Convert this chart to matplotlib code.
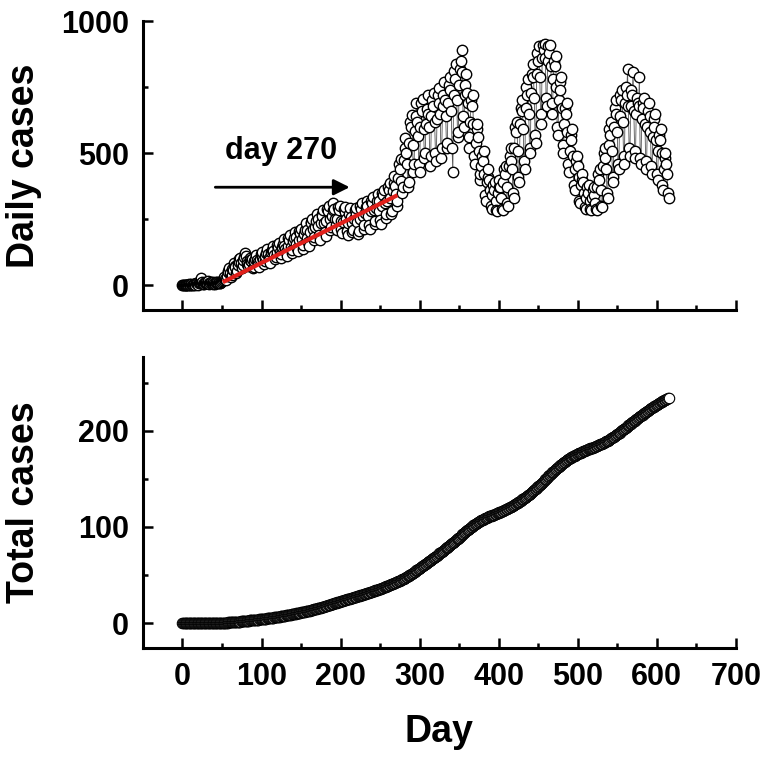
import numpy as np
import matplotlib
matplotlib.use("Agg")
import matplotlib.pyplot as plt
from matplotlib.ticker import MultipleLocator

plt.rcParams["font.family"] = ["Liberation Sans", "DejaVu Sans"]
plt.rcParams["font.weight"] = "bold"

# daily cases, one row per week, day 0 .. 615
daily_cases = [
    0, 0, 1, 0, 2, 1, 0,
    1, 3, 2, 0, 4, 2, 1,
    3, 5, 2, 6, 8, 4, 2,
    6, 9, 25, 8, 12, 5, 3,
    8, 12, 10, 6, 14, 9, 5,
    7, 10, 8, 5, 11, 7, 4,
    9, 12, 10, 7, 13, 9, 6,
    10, 14, 18, 24, 32, 22, 20,
    36, 52, 48, 64, 44, 30, 40,
    62, 58, 84, 72, 70, 46, 55,
    78, 98, 88, 104, 82, 64, 76,
    96, 108, 121, 110, 90, 80, 72,
    80, 104, 96, 90, 98, 66, 70,
    92, 98, 114, 96, 86, 78, 68,
    100, 118, 108, 124, 96, 80, 90,
    112, 120, 138, 116, 104, 96, 84,
    124, 132, 150, 128, 114, 100, 108,
    126, 152, 146, 160, 124, 104, 116,
    144, 156, 176, 150, 136, 124, 110,
    148, 180, 170, 188, 146, 120, 134,
    166, 178, 200, 184, 156, 140, 130,
    170, 204, 196, 214, 176, 138, 152,
    192, 208, 234, 210, 180, 164, 150,
    200, 240, 236, 252, 212, 170, 182,
    220, 244, 270, 250, 224, 188, 172,
    236, 270, 262, 284, 236, 200, 186,
    244, 290, 280, 300, 250, 210, 220,
    262, 286, 310, 290, 252, 226, 208,
    250, 296, 286, 300, 244, 212, 196,
    240, 288, 276, 296, 250, 204, 190,
    236, 268, 292, 260, 236, 200, 210,
    250, 286, 270, 294, 240, 192, 206,
    252, 300, 290, 310, 262, 214, 226,
    272, 296, 320, 300, 262, 228, 212,
    280, 320, 310, 334, 284, 232, 244,
    292, 318, 346, 320, 280, 246, 232,
    300, 350, 340, 362, 310, 254, 270,
    318, 372, 360, 386, 330, 270, 282,
    356, 388, 414, 376, 344, 300, 320,
    406, 460, 440, 478, 396, 350, 372,
    476, 520, 556, 500, 460, 370, 390,
    540, 620, 600, 646, 530, 430, 460,
    586, 640, 690, 620, 566, 460, 430,
    600, 690, 660, 706, 590, 480, 500,
    610, 666, 720, 650, 600, 450, 490,
    640, 700, 680, 730, 620, 500, 470,
    630, 720, 748, 690, 650, 480, 520,
    680, 720, 770, 700, 640, 520, 540,
    690, 760, 740, 790, 660, 520, 430,
    720, 810, 780, 840, 700, 560, 580,
    760, 820, 850, 890, 807, 640, 600,
    720, 760, 800, 730, 690, 560, 520,
    620, 700, 680, 720, 610, 490, 460,
    540, 590, 610, 560, 510, 400, 420,
    450, 490, 470, 510, 420, 340, 320,
    390, 410, 440, 400, 360, 300, 290,
    340, 380, 360, 390, 320, 285, 280,
    350, 370, 400, 370, 330, 290, 285,
    390, 440, 420, 450, 370, 310, 300,
    450, 490, 520, 470, 440, 350, 330,
    520, 600, 580, 620, 510, 410, 390,
    610, 670, 700, 660, 590, 470, 440,
    670, 750, 720, 780, 650, 520, 500,
    730, 800, 840, 790, 710, 570, 540,
    800, 880, 850, 905, 790, 650, 610,
    860, 910, 890, 915, 860, 710, 680,
    850, 905, 880, 910, 830, 690, 650,
    780, 850, 830, 870, 750, 600, 570,
    700, 770, 740, 790, 670, 530, 500,
    610, 670, 650, 690, 580, 460, 430,
    510, 570, 550, 590, 490, 380, 360,
    440, 470, 490, 450, 410, 320, 310,
    380, 400, 420, 390, 350, 295, 290,
    330, 370, 350, 380, 320, 290, 285,
    330, 360, 340, 370, 310, 290, 285,
    370, 420, 400, 440, 360, 300, 295,
    450, 500, 520, 480, 440, 350, 330,
    530, 590, 570, 620, 510, 410, 390,
    600, 670, 650, 700, 580, 460, 440,
    640, 720, 700, 740, 620, 490, 460,
    690, 750, 720, 820, 680, 520, 490,
    680, 740, 720, 808, 660, 510, 480,
    650, 710, 690, 680, 790, 480, 460,
    630, 690, 670, 710, 610, 470, 440,
    600, 660, 690, 640, 580, 450, 420,
    560, 630, 600, 650, 550, 420, 400,
    510, 570, 550, 590, 500, 380, 360,
    440, 480, 500, 460, 420, 350, 330,
]
days = np.arange(len(daily_cases))

# total cases in thousands
total_cases = np.cumsum(daily_cases) / 1000

# linear fit up to day 270
fit_days = [51, 272]
fit_cases = [11, 341]

arrow_start, arrow_end, arrow_level = 38, 215, 371

fig = plt.figure(figsize=(7.77, 7.62), dpi=100)
ax1 = fig.add_axes([0.184, 0.593, 0.763, 0.379])
ax2 = fig.add_axes([0.184, 0.1496, 0.763, 0.382])

ax1.plot(days, daily_cases, "-", color="#555555", lw=0.6, marker="o",
         ms=7.5, mfc="white", mec="black", mew=1.0)
ax1.plot(fit_days, fit_cases, color="#e0201b", lw=3, solid_capstyle="butt")
ax1.annotate("", xy=(arrow_end, arrow_level), xytext=(arrow_start, arrow_level),
             arrowprops=dict(arrowstyle="-|>", color="black", lw=2, mutation_scale=24))
ax1.text(125, 510, "day 270", ha="center", va="center", fontsize=22, fontweight="bold")

ax2.plot(days, total_cases, "-", color="#444444", lw=0.6, marker="o",
         ms=7.5, mfc="white", mec="black", mew=0.8)

ax1.set_ylim(-95, 1000)
ax1.yaxis.set_major_locator(MultipleLocator(500))
ax1.yaxis.set_minor_locator(MultipleLocator(250))
ax2.set_ylim(-26, 277)
ax2.yaxis.set_major_locator(MultipleLocator(100))
ax2.yaxis.set_minor_locator(MultipleLocator(50))

for ax in (ax1, ax2):
    ax.set_xlim(-50, 700)
    ax.xaxis.set_major_locator(MultipleLocator(100))
    ax.xaxis.set_minor_locator(MultipleLocator(50))
    for s in ("top", "right"):
        ax.spines[s].set_visible(False)
    for s in ("left", "bottom"):
        ax.spines[s].set_linewidth(2.2)
    ax.tick_params(which="major", direction="in", length=7, width=1.8, labelsize=22, pad=10)
    ax.tick_params(which="minor", direction="in", length=3.5, width=1.8)
    ax.yaxis.set_label_coords(-0.17, 0.5)

ax1.tick_params(axis="x", labelbottom=False)
ax1.set_ylabel("Daily cases", fontsize=27, fontweight="bold")
ax2.set_ylabel("Total cases", fontsize=27, fontweight="bold")
ax2.set_xlabel("Day", fontsize=27, fontweight="bold", labelpad=16)

fig.savefig("out.png", dpi=100)
